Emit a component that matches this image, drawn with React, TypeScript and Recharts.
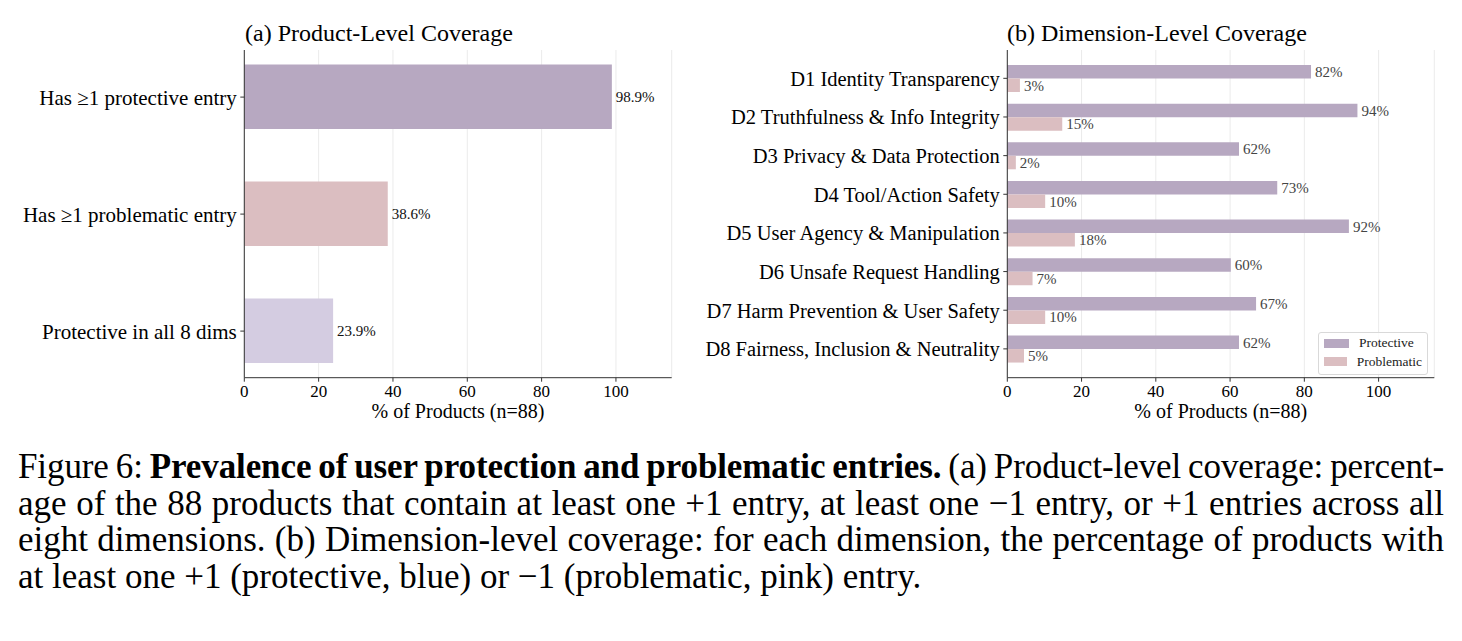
import React from "react";
import {
  Bar,
  BarChart,
  CartesianGrid,
  Cell,
  LabelList,
  Legend,
  XAxis,
  YAxis,
} from "recharts";

// (a) product-level coverage
const productCategories = [
  "Has ≥1 protective entry",
  "Has ≥1 problematic entry",
  "Protective in all 8 dims",
];
const productValues = [98.9, 38.6, 23.9];
const productColors = ["#b7a8c1", "#dbbec1", "#d4cce1"];

// (b) dimension-level coverage
const dimensionCategories = [
  "D1 Identity Transparency",
  "D2 Truthfulness & Info Integrity",
  "D3 Privacy & Data Protection",
  "D4 Tool/Action Safety",
  "D5 User Agency & Manipulation",
  "D6 Unsafe Request Handling",
  "D7 Harm Prevention & User Safety",
  "D8 Fairness, Inclusion & Neutrality",
];
const protectiveValues = [81.8, 94.3, 62.4, 72.7, 92.0, 60.2, 67.0, 62.4];
const problematicValues = [3.4, 14.8, 2.3, 10.2, 18.2, 6.8, 10.2, 4.5];
const seriesNames = ["Protective", "Problematic"];
const seriesColors = ["#b7a8c1", "#dbbec1"];

const xTicks = [0, 20, 40, 60, 80, 100];

const captionLines = [
  "age of the 88 products that contain at least one +1 entry, at least one −1 entry, or +1 entries across all",
  "eight dimensions. (b) Dimension-level coverage: for each dimension, the percentage of products with",
  "at least one +1 (protective, blue) or −1 (problematic, pink) entry.",
];

const FONT = '"Liberation Serif", "Times New Roman", serif';
const AXIS = "#333333";
const GRID = "#ebebeb";

const productData = productCategories.map((name, i) => ({
  name,
  value: productValues[i],
}));

const dimensionData = dimensionCategories.map((name, i) => ({
  name,
  protective: protectiveValues[i],
  problematic: problematicValues[i],
}));

function LegendBox(props: any) {
  // keep the series order (recharts sorts legend items by name)
  const items = [...(props.payload || [])].sort(
    (a: any, b: any) => seriesNames.indexOf(a.value) - seriesNames.indexOf(b.value)
  );
  return (
    <div
      style={{
        border: "1px solid #d9d9d9",
        borderRadius: 3,
        background: "rgba(255,255,255,0.85)",
        padding: "1px 5px 3px 5px",
        fontFamily: FONT,
        fontSize: 13.5,
        color: "#222",
      }}
    >
      {items.map((entry: any) => (
        <div
          key={entry.value}
          style={{ display: "flex", alignItems: "center", height: 18.5 }}
        >
          <span
            style={{
              display: "inline-block",
              width: 25,
              height: 9,
              background: entry.color,
              marginRight: 10,
            }}
          />
          {entry.value}
        </div>
      ))}
    </div>
  );
}

export default function App() {
  return (
    <div
      style={{
        position: "absolute",
        left: 0,
        top: 0,
        width: 1462,
        height: 641,
        background: "#fff",
        fontFamily: FONT,
        color: "#000",
        overflow: "hidden",
      }}
    >
      <div style={{ position: "absolute", left: 245, top: 21, fontSize: 24, lineHeight: "24px" }}>
        (a) Product-Level Coverage
      </div>
      <div style={{ position: "absolute", left: 1007, top: 21, fontSize: 24, lineHeight: "24px" }}>
        (b) Dimension-Level Coverage
      </div>

      <div style={{ position: "absolute", left: 0, top: 0 }}>
        <BarChart
          layout="vertical"
          width={700}
          height={440}
          data={productData}
          margin={{ top: 50, right: 28.3, bottom: 2.3, left: 0 }}
        >
          <CartesianGrid horizontal={false} stroke={GRID} />
          <XAxis
            type="number"
            domain={[0, 115]}
            ticks={xTicks}
            height={60}
            tickSize={4}
            tickMargin={3.5}
            tick={{ fontSize: 17, fill: "#000" }}
            axisLine={{ stroke: AXIS }}
            tickLine={{ stroke: AXIS }}
            label={{
              value: "% of Products (n=88)",
              position: "insideBottom",
              offset: 19.4,
              fontSize: 20,
              fill: "#000",
            }}
          />
          <YAxis
            type="category"
            dataKey="name"
            width={244.3}
            interval={0}
            padding={{ top: -11.4, bottom: -11.9 }}
            tickSize={4}
            tickMargin={3.5}
            tick={{ fontSize: 21, fill: "#000" }}
            axisLine={{ stroke: AXIS }}
            tickLine={{ stroke: AXIS }}
          />
          <Bar dataKey="value" barSize={64.4} isAnimationActive={false}>
            {productData.map((d, i) => (
              <Cell key={d.name} fill={productColors[i]} />
            ))}
            <LabelList
              dataKey="value"
              position="right"
              offset={4}
              formatter={(v: any) => `${Number(v).toFixed(1)}%`}
              style={{ fontSize: 15, fill: "#111" }}
            />
          </Bar>
        </BarChart>
      </div>

      <div style={{ position: "absolute", left: 700, top: 0 }}>
        <BarChart
          layout="vertical"
          width={762}
          height={440}
          data={dimensionData}
          barGap={0}
          margin={{ top: 50, right: 27.7, bottom: 2.3, left: 0 }}
        >
          <CartesianGrid horizontal={false} stroke={GRID} />
          <XAxis
            type="number"
            domain={[0, 115]}
            ticks={xTicks}
            height={60}
            tickSize={4}
            tickMargin={3.5}
            tick={{ fontSize: 17, fill: "#000" }}
            axisLine={{ stroke: AXIS }}
            tickLine={{ stroke: AXIS }}
            label={{
              value: "% of Products (n=88)",
              position: "insideBottom",
              offset: 19.4,
              fontSize: 20,
              fill: "#000",
            }}
          />
          <YAxis
            type="category"
            dataKey="name"
            width={307.3}
            interval={0}
            padding={{ top: 9, bottom: 9.5 }}
            tickSize={4}
            tickMargin={3.5}
            tick={{ fontSize: 20.5, fill: "#000" }}
            axisLine={{ stroke: AXIS }}
            tickLine={{ stroke: AXIS }}
          />
          <Legend
            layout="vertical"
            align="center"
            verticalAlign="middle"
            content={<LegendBox />}
            wrapperStyle={{ position: "absolute", left: 618, top: 332, width: 110, height: "auto" }}
          />
          <Bar
            dataKey="protective"
            name={seriesNames[0]}
            fill={seriesColors[0]}
            barSize={13.5}
            isAnimationActive={false}
          >
            <LabelList
              dataKey="protective"
              position="right"
              offset={4}
              formatter={(v: any) => `${Math.round(Number(v))}%`}
              style={{ fontSize: 15, fill: "#444" }}
            />
          </Bar>
          <Bar
            dataKey="problematic"
            name={seriesNames[1]}
            fill={seriesColors[1]}
            barSize={13.5}
            isAnimationActive={false}
          >
            <LabelList
              dataKey="problematic"
              position="right"
              offset={4}
              formatter={(v: any) => `${Math.round(Number(v))}%`}
              style={{ fontSize: 15, fill: "#444" }}
            />
          </Bar>
        </BarChart>
      </div>

      <div
        style={{
          position: "absolute",
          left: 18,
          top: 449,
          width: 1426,
          fontSize: 35,
          lineHeight: "36.7px",
        }}
      >
        <div
          style={{
            whiteSpace: "nowrap",
            textAlign: "justify",
            textAlignLast: "justify",
            wordSpacing: "-3px",
            letterSpacing: "-0.1px",
          }}
        >
          Figure 6: <b>Prevalence of user protection and problematic entries.</b> (a) Product-level
          coverage: percent-
        </div>
        {captionLines.map((ln, i) => (
          <div
            key={i}
            style={{
              whiteSpace: "nowrap",
              textAlign: i < 2 ? "justify" : "left",
              textAlignLast: i < 2 ? "justify" : "auto",
            }}
          >
            {ln}
          </div>
        ))}
      </div>
    </div>
  );
}
